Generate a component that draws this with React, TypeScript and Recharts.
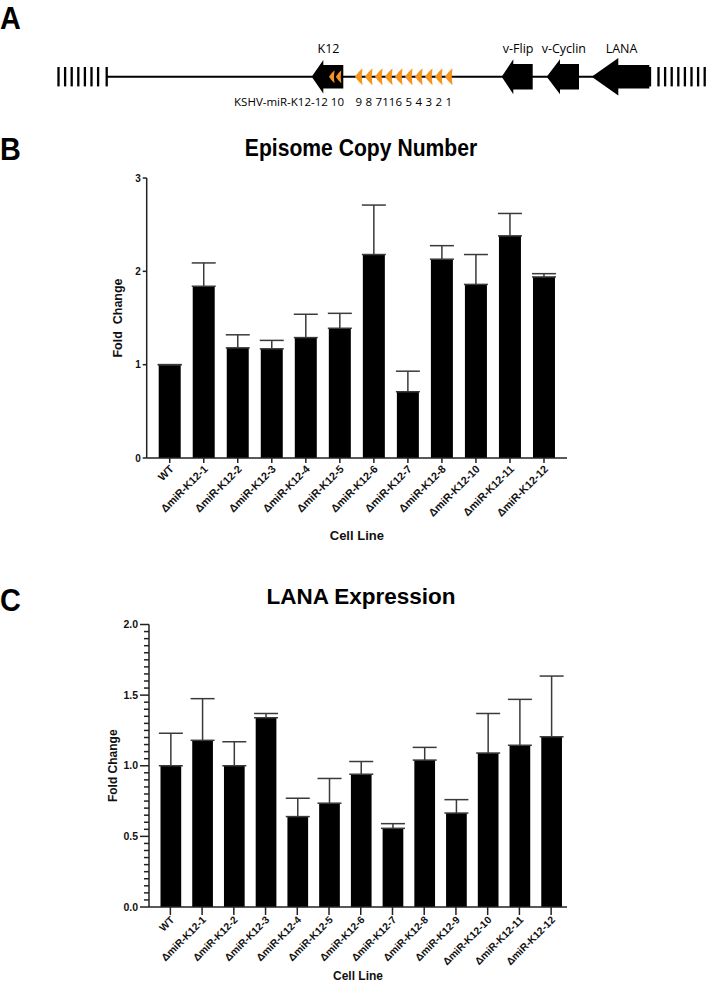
import React from 'react';
import { BarChart, Bar, XAxis, YAxis, ErrorBar, Label, ComposedChart, Scatter, ReferenceLine } from 'recharts';

// ---------- Panel A (genome map, diagram units = px along the map) ----------
const backboneY = 76.7;
const backboneStart = 106.7;
const backboneEnd = 650;
const genes = [
  { name: 'K12', tip: 311.7, neck: 323.3, end: 343.3, head: 16.7, body: 11.7 },
  { name: 'v-Flip', tip: 501.7, neck: 513.3, end: 532.7, head: 17.5, body: 12.8 },
  { name: 'v-Cyclin', tip: 546.7, neck: 560, end: 579, head: 17.5, body: 12.8 },
  { name: 'LANA', tip: 591.7, neck: 618.3, end: 649.3, head: 18.8, body: 11.7 },
];
const innerMirTips = [329, 335.8];
const outerMirTips = [355, 365, 375, 385, 395, 405, 415, 425, 435, 445];
const outerMirLabels = ['9', '8', '7', '11', '6', '5', '4', '3', '2', '1'];
const hatchLeft = [58.5, 65.1, 71.7, 78.3, 84.9, 91.5, 98.1];
const hatchRight = [658.5, 665.1, 671.7, 678.3, 684.9, 691.5, 698.1, 704.7];
const endTicks = [backboneStart, backboneEnd];

// ---------- Panel B ----------
const episomeCategories = ['WT', 'ΔmiR-K12-1', 'ΔmiR-K12-2', 'ΔmiR-K12-3', 'ΔmiR-K12-4', 'ΔmiR-K12-5', 'ΔmiR-K12-6', 'ΔmiR-K12-7', 'ΔmiR-K12-8', 'ΔmiR-K12-10', 'ΔmiR-K12-11', 'ΔmiR-K12-12'];
const episomeMean = [1.0, 1.84, 1.18, 1.17, 1.29, 1.39, 2.18, 0.71, 2.13, 1.86, 2.38, 1.94];
const episomeErr = [0, 0.25, 0.14, 0.09, 0.25, 0.16, 0.53, 0.22, 0.145, 0.32, 0.24, 0.035];
const episomeTicks = [0, 1, 2, 3];

// ---------- Panel C ----------
const lanaCategories = ['WT', 'ΔmiR-K12-1', 'ΔmiR-K12-2', 'ΔmiR-K12-3', 'ΔmiR-K12-4', 'ΔmiR-K12-5', 'ΔmiR-K12-6', 'ΔmiR-K12-7', 'ΔmiR-K12-8', 'ΔmiR-K12-9', 'ΔmiR-K12-10', 'ΔmiR-K12-11', 'ΔmiR-K12-12'];
const lanaMean = [1.0, 1.18, 1.0, 1.34, 0.64, 0.735, 0.94, 0.557, 1.04, 0.665, 1.09, 1.145, 1.205];
const lanaErr = [0.23, 0.295, 0.17, 0.03, 0.13, 0.175, 0.09, 0.033, 0.09, 0.095, 0.28, 0.325, 0.43];
const lanaMajorTicks = [0, 0.5, 1.0, 1.5, 2.0];
const lanaMinorStep = 0.05;

const episomeData = episomeCategories.map((name, i) => ({ name, mean: episomeMean[i], err: [0, episomeErr[i]] }));
const lanaData = lanaCategories.map((name, i) => ({ name, mean: lanaMean[i], err: [0, lanaErr[i]] }));
const lanaTicks: number[] = [];
for (let i = 0; i <= Math.round(2 / lanaMinorStep); i++) lanaTicks.push(Math.round(i * lanaMinorStep * 100) / 100);

const FONT = '"Liberation Sans", Arial, Helvetica, sans-serif';
const DIAG_FONT = '"Open Sans", "Noto Sans", sans-serif';
const AXIS = '#222';
const ORANGE = '#F7941E';

const geneData = genes.map((g) => ({ ...g, x: g.tip, y: backboneY }));
const innerData = innerMirTips.map((t) => ({ x: t, y: backboneY }));
const outerData = outerMirTips.map((t, i) => ({ x: t, y: backboneY, label: outerMirLabels[i] }));
const hatchData = [...hatchLeft, ...hatchRight, ...endTicks].map((x) => ({ x, y: backboneY }));

const GeneShape = (p: any) => {
  const g = p.payload;
  const cx = p.cx, cy = p.cy;
  const n = cx + (g.neck - g.tip);
  const e = cx + (g.end - g.tip);
  const pts = [
    [cx, cy], [n, cy - g.head], [n, cy - g.body], [e, cy - g.body],
    [e, cy + g.body], [n, cy + g.body], [n, cy + g.head],
  ].map((q) => q.join(',')).join(' ');
  const mid = cx + (g.end - g.tip) / 2 + 1;
  return (
    <g>
      <polygon points={pts} fill="#000" />
      <text x={mid} y={52.5} textAnchor="middle" fontSize={12.5} fontFamily={DIAG_FONT} fill="#000">{g.name}</text>
    </g>
  );
};

const MirShape = (w: number, h: number, withLabel: boolean) => (p: any) => {
  const cx = p.cx, cy = p.cy;
  const d = `M${cx},${cy} Q${cx + w * 0.45},${cy - h * 0.3} ${cx + w},${cy - h / 2} Q${cx + w * 0.8},${cy} ${cx + w},${cy + h / 2} Q${cx + w * 0.45},${cy + h * 0.3} ${cx},${cy} Z`;
  return (
    <g>
      <path d={d} fill={ORANGE} />
      {withLabel && p.payload.label ? (
        <text x={cx + w / 2} y={105.5} textAnchor="middle" fontSize={11.5} fontFamily={DIAG_FONT} fill="#000">{p.payload.label}</text>
      ) : null}
    </g>
  );
};

const HatchShape = (p: any) => (
  <line x1={p.cx} x2={p.cx} y1={p.cy - 9.7} y2={p.cy + 9.7} stroke="#000" strokeWidth={2.3} />
);

const RotTick = (p: any) => {
  const { x, y, payload, fs } = p;
  return (
    <g transform={`translate(${x + 2},${y})`}>
      <text x={0} y={0} dy="0.35em" textAnchor="end" transform="rotate(-45)" fontSize={fs} fontWeight="bold" fontFamily={FONT} fill="#111">
        {payload.value}
      </text>
    </g>
  );
};

const LanaYTick = (p: any) => {
  const v = p.payload.value;
  const major = lanaMajorTicks.some((m) => Math.abs(m - v) < 1e-6);
  const x = p.x, y = p.y;
  return (
    <g>
      <line x1={x - (major ? 9 : 5)} x2={x} y1={y} y2={y} stroke={AXIS} strokeWidth={1.5} />
      {major ? (
        <text x={x - 11} y={y} dy="0.35em" textAnchor="end" fontSize={10.5} fontWeight="bold" fontFamily={FONT} fill="#111">
          {v.toFixed(1)}
        </text>
      ) : null}
    </g>
  );
};

const letter = (top: number): React.CSSProperties => ({
  position: 'absolute', left: 0, top, fontSize: 32, lineHeight: '32px', fontWeight: 'bold',
  fontFamily: FONT, color: '#000', transform: 'scaleX(0.9)', transformOrigin: 'left top',
});

export default function App() {
  return (
    <div style={{ position: 'absolute', left: 0, top: 0, width: 708, height: 999, background: '#fff', fontFamily: FONT }}>
      <div style={letter(2)}>A</div>
      <div style={letter(133)}>B</div>
      <div style={letter(584)}>C</div>

      {/* Panel A */}
      <div style={{ position: 'absolute', left: 0, top: 0 }}>
        <ComposedChart width={708} height={115} margin={{ top: 0, right: 0, bottom: 0, left: 0 }}>
          <XAxis type="number" dataKey="x" domain={[0, 708]} hide />
          <YAxis type="number" dataKey="y" domain={[0, 115]} reversed hide />
          <ReferenceLine segment={[{ x: backboneStart, y: backboneY }, { x: backboneEnd, y: backboneY }]} stroke="#000" strokeWidth={2} ifOverflow="visible" />
          <Scatter data={hatchData} shape={HatchShape} isAnimationActive={false} />
          <Scatter data={geneData} shape={GeneShape} isAnimationActive={false} />
          <Scatter data={innerData} shape={MirShape(5.5, 13, false)} isAnimationActive={false} />
          <Scatter data={outerData} shape={MirShape(7.5, 17, true)} isAnimationActive={false} />
        </ComposedChart>
        <div style={{ position: 'absolute', left: 0, top: 0, width: 708, height: 115, pointerEvents: 'none' }}>
          <svg width={708} height={115}>
            <text x={344} y={105.5} textAnchor="end" fontSize={11.5} fontFamily={DIAG_FONT} fill="#000">KSHV-miR-K12-12 10</text>
          </svg>
        </div>
      </div>

      {/* Panel B */}
      <div style={{ position: 'absolute', left: 0, top: 136, width: 708, textAlign: 'center', fontSize: 24, lineHeight: '24px', fontWeight: 'bold' }}>
        <div style={{ position: 'absolute', left: 361, transform: 'translateX(-50%) scaleX(0.88)', whiteSpace: 'nowrap' }}>Episome Copy Number</div>
      </div>
      <div style={{ position: 'absolute', left: 0, top: 160 }}>
        <BarChart width={708} height={400} data={episomeData} margin={{ top: 18, right: 141, bottom: 20, left: 106.7 }} barSize={22}>
          <XAxis dataKey="name" type="category" interval={0} padding={{ left: 6, right: 6 }} height={82} tickSize={5} tickMargin={4}
            axisLine={{ stroke: AXIS, strokeWidth: 1.5 }} tickLine={{ stroke: AXIS, strokeWidth: 1.5 }}
            tick={(p: any) => <RotTick {...p} fs={10.8} />}>
            <Label value="Cell Line" position="insideBottom" offset={0} style={{ fontSize: 13, fontWeight: 'bold', fill: '#111', fontFamily: FONT }} />
          </XAxis>
          <YAxis type="number" domain={[0, 3]} ticks={episomeTicks} interval={0} width={40} tickSize={4} tickMargin={2}
            axisLine={{ stroke: AXIS, strokeWidth: 1.5 }} tickLine={{ stroke: AXIS, strokeWidth: 1.5 }}
            tick={{ fontSize: 10, fontWeight: 'bold', fill: '#111', fontFamily: FONT }}>
            <Label value={'Fold\u00A0 Change'} angle={-90} position="insideLeft" offset={11} style={{ textAnchor: 'middle', fontSize: 12.5, fontWeight: 'bold', fill: '#111', fontFamily: FONT }} />
          </YAxis>
          <Bar dataKey="mean" fill="#000" isAnimationActive={false}>
            <ErrorBar dataKey="err" width={12} stroke="#3a3a3a" strokeWidth={1.5} direction="y" isAnimationActive={false} />
          </Bar>
        </BarChart>
      </div>

      {/* Panel C */}
      <div style={{ position: 'absolute', left: 0, top: 586, width: 708, fontSize: 22.5, lineHeight: '22.5px', fontWeight: 'bold' }}>
        <div style={{ position: 'absolute', left: 361, transform: 'translateX(-50%)', whiteSpace: 'nowrap' }}>LANA Expression</div>
      </div>
      <div style={{ position: 'absolute', left: 0, top: 600 }}>
        <BarChart width={708} height={399} data={lanaData} margin={{ top: 24.5, right: 141, bottom: 19, left: 105 }} barSize={20.7}>
          <XAxis dataKey="name" type="category" interval={0} padding={{ left: 5.5, right: 0 }} height={73} tickSize={8} tickMargin={3}
            axisLine={{ stroke: AXIS, strokeWidth: 1.5 }} tickLine={{ stroke: AXIS, strokeWidth: 1.5 }}
            tick={(p: any) => <RotTick {...p} fs={10.3} />}>
            <Label value="Cell Line" position="insideBottom" offset={0} style={{ fontSize: 12, fontWeight: 'bold', fill: '#111', fontFamily: FONT }} />
          </XAxis>
          <YAxis type="number" domain={[0, 2]} ticks={lanaTicks} interval={0} width={44} tickSize={0} tickMargin={0} tickLine={false}
            axisLine={{ stroke: AXIS, strokeWidth: 1.5 }} tick={(p: any) => <LanaYTick {...p} />}>
            <Label value="Fold Change" angle={-90} position="insideLeft" offset={7.5} style={{ textAnchor: 'middle', fontSize: 12, fontWeight: 'bold', fill: '#111', fontFamily: FONT }} />
          </YAxis>
          <Bar dataKey="mean" fill="#000" isAnimationActive={false}>
            <ErrorBar dataKey="err" width={12} stroke="#3a3a3a" strokeWidth={1.5} direction="y" isAnimationActive={false} />
          </Bar>
        </BarChart>
      </div>
    </div>
  );
}
